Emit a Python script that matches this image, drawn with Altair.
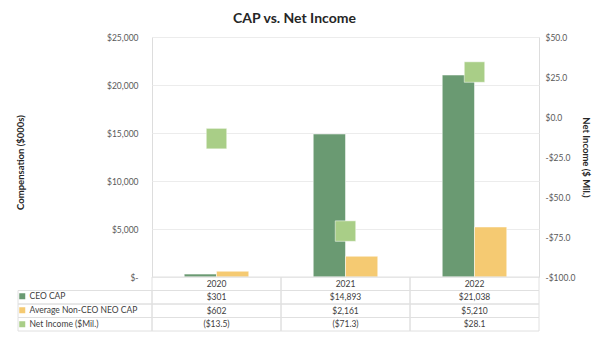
import altair as alt
import pandas as pd

years = ["2020", "2021", "2022"]
series = ["CEO CAP", "Average Non-CEO NEO CAP", "Net Income ($Mil.)"]
ceo_cap = [301, 14893, 21038]
neo_cap = [602, 2161, 5210]
net_income = [-13.5, -71.3, 28.1]
colors = ["#6A9A72", "#F5CA72", "#A9CE87"]
rows = ["Year"] + series
left_ticks = [0, 5000, 10000, 15000, 20000, 25000]
right_ticks = [-100, -75, -50, -25, 0, 25, 50]

FONT = "Lato"
TXT = "#404040"
LINE = "#e0e0e0"
W, H = 387, 240


def money0(v):
    return f"${v:,.0f}"


def money1(v):
    return f"(${abs(v):.1f})" if v < 0 else f"${v:.1f}"


bars_df = pd.DataFrame(
    [{"year": y, "series": series[0], "value": v} for y, v in zip(years, ceo_cap)]
    + [{"year": y, "series": series[1], "value": v} for y, v in zip(years, neo_cap)]
)
ni_df = pd.DataFrame({"year": years, "series": series[2], "value": net_income})
table_df = pd.DataFrame(
    [{"year": y, "row": "Year", "text": y} for y in years]
    + [{"year": y, "row": series[0], "text": money0(v)} for y, v in zip(years, ceo_cap)]
    + [{"year": y, "row": series[1], "text": money0(v)} for y, v in zip(years, neo_cap)]
    + [{"year": y, "row": series[2], "text": money1(v)} for y, v in zip(years, net_income)]
)

x_enc = alt.X("year:N", sort=years, scale=alt.Scale(domain=years, paddingInner=0, paddingOuter=0), axis=None)
color_scale = alt.Scale(domain=series, range=colors)
legend = alt.Legend(
    title=None, orient="none", legendX=-134, legendY=255, symbolType="square",
    symbolSize=36, symbolStrokeWidth=0, labelFont=FONT, labelFontSize=8.5,
    labelColor=TXT, rowPadding=5, labelOffset=3, padding=0,
)

bars = alt.Chart(bars_df).mark_bar(stroke="white", strokeWidth=0.5).encode(
    x=x_enc,
    xOffset=alt.XOffset("series:N", scale=alt.Scale(domain=series[:2], paddingInner=0, paddingOuter=1)),
    y=alt.Y(
        "value:Q",
        scale=alt.Scale(domain=[0, 25000], nice=False),
        axis=alt.Axis(
            values=left_ticks, grid=True, gridColor="#ececec", domain=False, ticks=False,
            labelPadding=14, labelFont=FONT, labelFontSize=8.5, labelColor="#595959",
            labelExpr="datum.value == 0 ? '$-  ' : '$' + format(datum.value, ',')",
            title="Compensation ($000s)", titleFont=FONT, titleFontSize=9.5, titleFontWeight="bold",
            titleColor="#262626", titleX=-127, titleY=125,
        ),
    ),
    color=alt.Color("series:N", scale=color_scale, legend=legend),
)

squares = alt.Chart(ni_df).mark_square(size=420, opacity=1, stroke="white", strokeWidth=0.5).encode(
    x=x_enc,
    y=alt.Y(
        "value:Q",
        scale=alt.Scale(domain=[-100, 50], nice=False),
        axis=alt.Axis(
            orient="right", values=right_ticks, grid=False, domain=False, ticks=False,
            labelPadding=6, labelFont=FONT, labelFontSize=8.5, labelColor="#595959",
            labelExpr="(datum.value < 0 ? '-$' : '$') + format(abs(datum.value), '.1f')",
            title="Net Income ($ Mil.)", titleFont=FONT, titleFontSize=9.5, titleFontWeight="bold",
            titleColor="#262626", titlePadding=6,
        ),
    ),
    color=alt.Color("series:N", scale=color_scale, legend=legend),
)

row_y = alt.Scale(domain=rows, range=[H, H + 54], paddingInner=0, paddingOuter=0)

cells = alt.Chart(table_df).mark_rect(fill="white", fillOpacity=0, stroke=LINE, strokeWidth=1).encode(
    x=x_enc,
    y=alt.Y("row:N", scale=row_y, axis=None),
)
label_cells = alt.Chart(pd.DataFrame({"row": series})).mark_rect(
    fill="white", fillOpacity=0, stroke=LINE, strokeWidth=1
).encode(
    x=alt.value(-134), x2=alt.value(0),
    y=alt.Y("row:N", scale=row_y, axis=None),
)
table_text = alt.Chart(table_df).mark_text(font=FONT, fontSize=8.5, color=TXT).encode(
    x=x_enc,
    y=alt.Y("row:N", scale=row_y, axis=None),
    text="text:N",
)

table = alt.layer(cells, label_cells, table_text)

chart = alt.layer(bars, squares, table).resolve_scale(y="independent").properties(
    width=W, height=H,
    title=alt.TitleParams(
        "CAP vs. Net Income", font=FONT, fontSize=14, fontWeight="bold", color="#262626",
        anchor="middle", dx=-51, offset=7,
    ),
    autosize=alt.AutoSizeParams(type="none"),
    padding={"left": 152, "top": 37, "right": 66, "bottom": 60},
).configure_view(stroke=None).configure(background="white")

chart.save("out.html", embed_options={"renderer": "svg", "actions": False})
